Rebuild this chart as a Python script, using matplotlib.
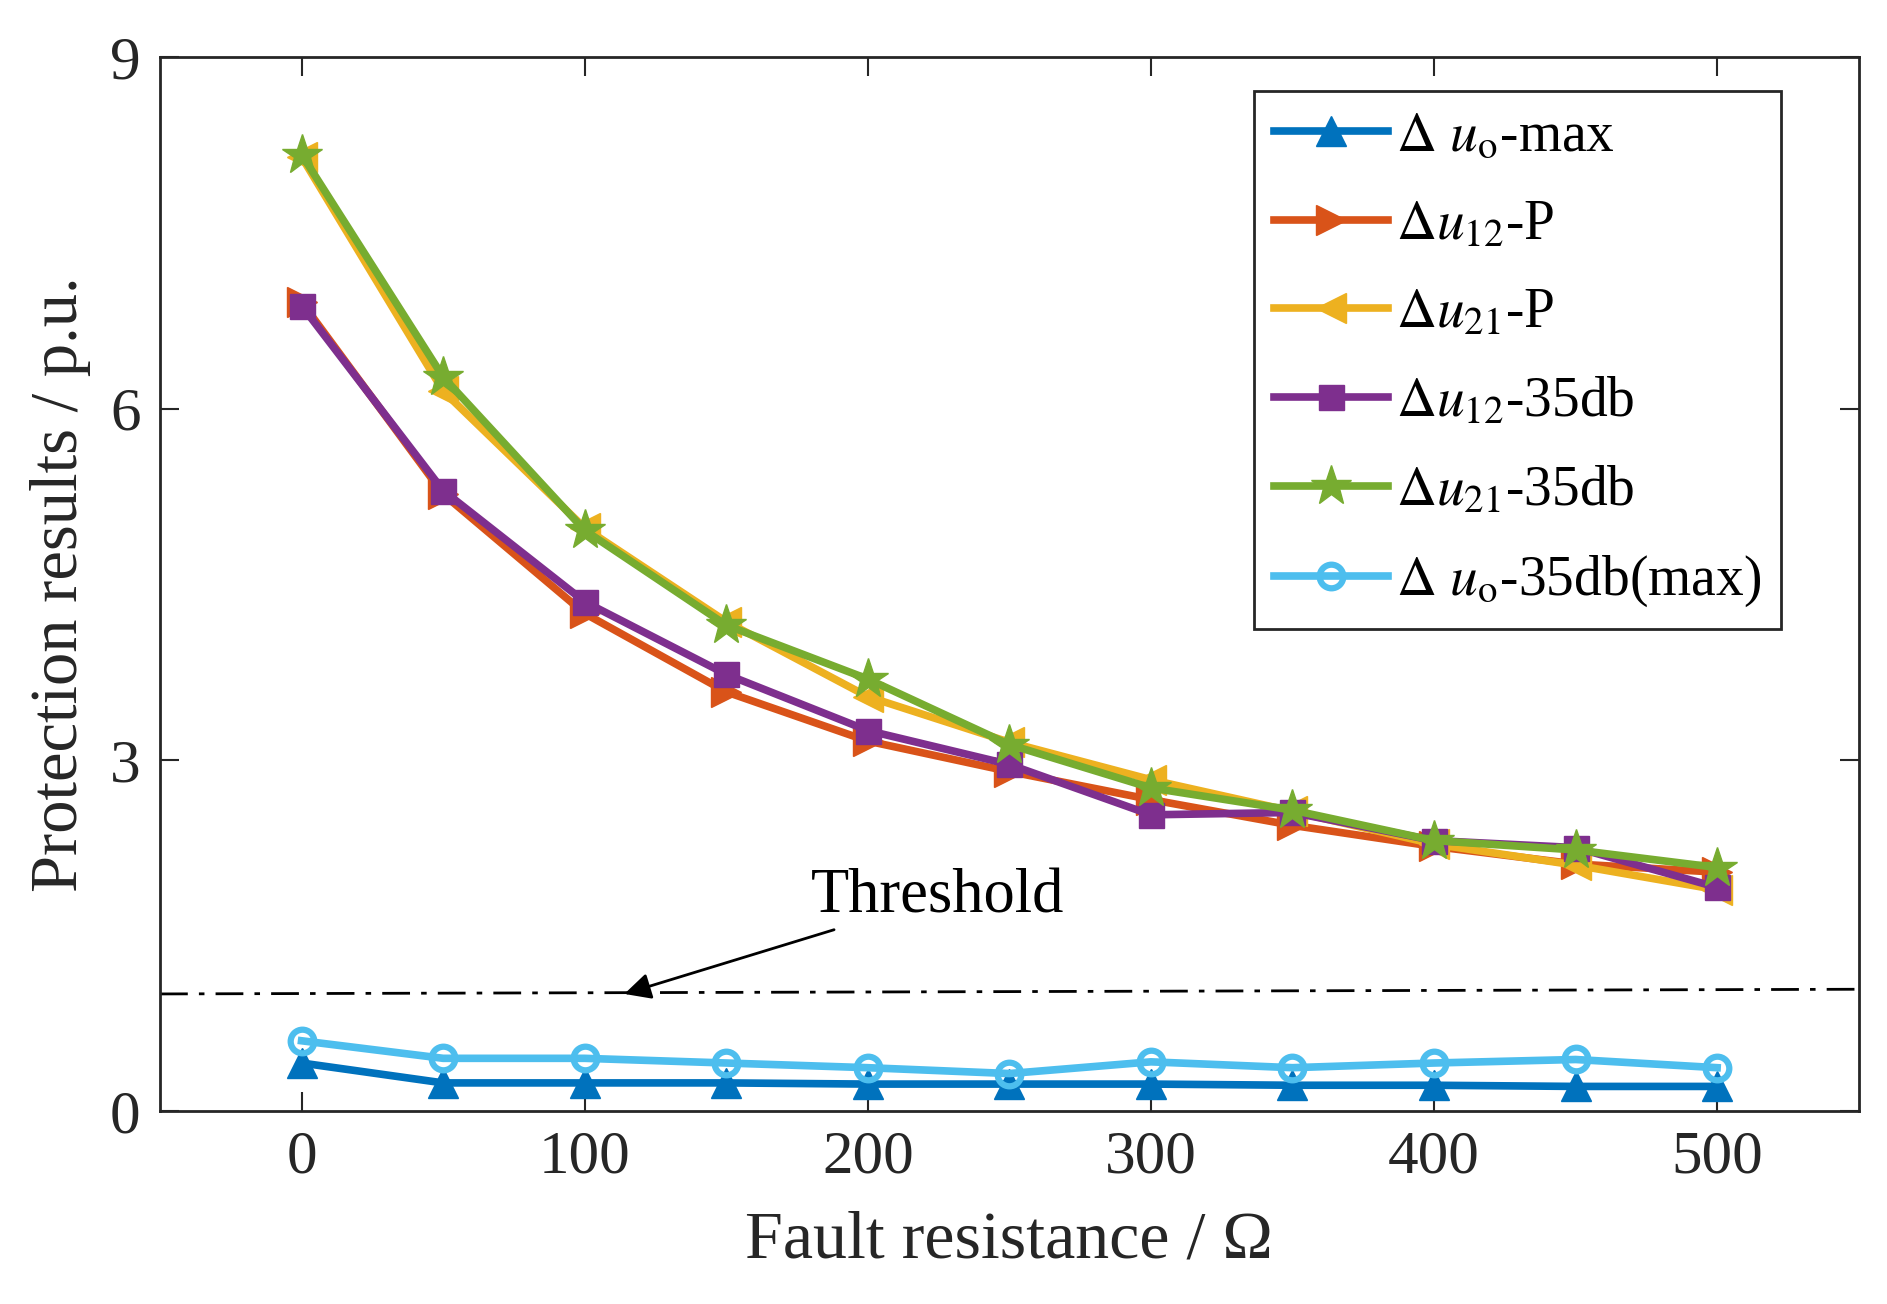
import matplotlib.pyplot as plt
import numpy as np

plt.rcParams['font.family'] = ['Liberation Serif', 'DejaVu Serif']
plt.rcParams['mathtext.fontset'] = 'stix'

# Fault resistance (Ohm)
fault_r = [0, 50, 100, 150, 200, 250, 300, 350, 400, 450, 500]

# Protection results (p.u.)
uo_max = [0.41, 0.24, 0.24, 0.24, 0.23, 0.23, 0.23, 0.22, 0.22, 0.21, 0.21]
u12_p = [6.91, 5.27, 4.25, 3.58, 3.16, 2.90, 2.66, 2.44, 2.26, 2.11, 2.04]
u21_p = [8.15, 6.15, 4.98, 4.18, 3.54, 3.15, 2.83, 2.56, 2.28, 2.10, 1.89]
u12_35db = [6.88, 5.30, 4.35, 3.73, 3.25, 2.96, 2.53, 2.55, 2.31, 2.25, 1.91]
u21_35db = [8.17, 6.27, 4.96, 4.15, 3.69, 3.13, 2.76, 2.57, 2.31, 2.23, 2.08]
uo_35db_max = [0.60, 0.45, 0.45, 0.41, 0.37, 0.32, 0.42, 0.37, 0.41, 0.44, 0.37]

# threshold line end points
thr_x = [-50, 550]
thr_y = [1.0, 1.04]

labels = [r'$\Delta$ $u_{\mathrm{o}}$-max', r'$\Delta u_{12}$-P', r'$\Delta u_{21}$-P',
          r'$\Delta u_{12}$-35db', r'$\Delta u_{21}$-35db', r'$\Delta$ $u_{\mathrm{o}}$-35db(max)']

fig = plt.figure(figsize=(18.87, 13.04), dpi=100)
ax = fig.add_axes([0.0848, 0.148, 0.9002, 0.808])

lw = 5.5
ax.plot(fault_r, uo_max, color='#0072BD', lw=lw, marker='^', ms=21, label=labels[0])
ax.plot(fault_r, u12_p, color='#D95319', lw=lw, marker='>', ms=21, label=labels[1])
ax.plot(fault_r, u21_p, color='#EDB120', lw=lw, marker='<', ms=21, label=labels[2])
ax.plot(fault_r, u12_35db, color='#7E2F8E', lw=lw, marker='s', ms=18, label=labels[3])
ax.plot(fault_r, u21_35db, color='#77AC30', lw=lw, marker='*', ms=30, label=labels[4])
ax.plot(fault_r, uo_35db_max, color='#4DBEEE', lw=lw, marker='o', ms=17, mfc='none',
        mew=4.5, label=labels[5])

ax.plot(thr_x, thr_y, color='black', lw=2, linestyle=(0, (10, 4, 2, 4)))
ax.annotate('Threshold', xy=(114, 1.0), xytext=(180, 1.82), fontsize=45,
            va='center', ha='left',
            arrowprops=dict(arrowstyle='-|>', color='black', lw=2, mutation_scale=40,
                            shrinkA=0, shrinkB=0))

ax.set_xlim(-50, 550)
ax.set_ylim(0, 9)
ax.set_xticks([0, 100, 200, 300, 400, 500])
ax.set_yticks([0, 3, 6, 9])
ax.tick_params(direction='in', length=14, width=1.5, labelsize=44, top=True, right=True,
               colors='#262626', pad=14)
for s in ax.spines.values():
    s.set_linewidth(2)
    s.set_color('#262626')

ax.set_xlabel('Fault resistance / Ω', fontsize=49, color='#262626', labelpad=18)
ax.set_ylabel('Protection results / p.u.', fontsize=48, color='#262626', labelpad=14)

leg = ax.legend(loc='upper right', bbox_to_anchor=(0.954, 0.968), borderaxespad=0,
                fontsize=40, handlelength=2.05, handletextpad=0.15, labelspacing=0.66,
                fancybox=False, edgecolor='#262626', framealpha=1, borderpad=0.35)
leg.get_frame().set_linewidth(2)

fig.savefig('out.png', dpi=100)
